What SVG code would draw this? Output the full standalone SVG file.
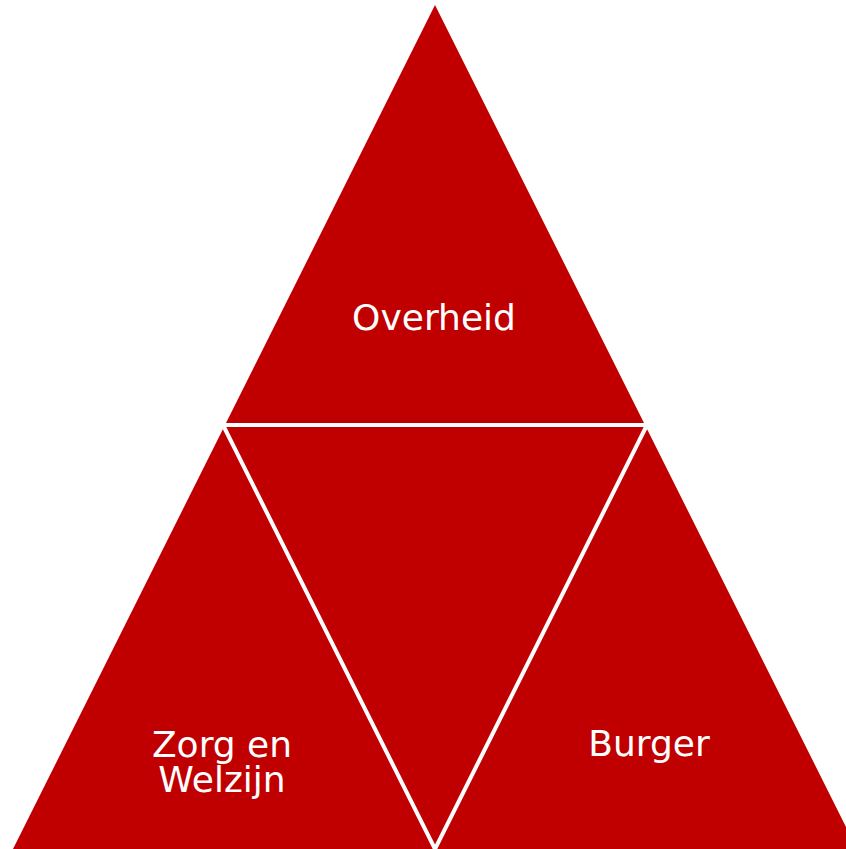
<svg xmlns="http://www.w3.org/2000/svg" width="846" height="849" viewBox="0 0 846 849">
<style>
.tri{fill:#C00000}
.sep{stroke:#FFFFFF;stroke-width:4;fill:none}
.lbl{font-family:"DejaVu Sans",Verdana,sans-serif;font-size:36px;fill:#FFFFFF;text-anchor:middle}
</style>
<rect width="846" height="849" fill="#FFFFFF"/>
<g id="top-node">
<polygon class="tri" points="435,5 224,427 646,427"/>
<text class="lbl" x="434" y="330">Overheid</text>
</g>
<g id="center-node">
<polygon class="tri" points="224,427 646,427 435,849"/>
</g>
<g id="left-node">
<polygon class="tri" points="224,427 13,849 435,849"/>
<text class="lbl" x="222" y="757"><tspan x="222" y="757">Zorg en</tspan><tspan x="222" y="792">Welzijn</tspan></text>
</g>
<g id="right-node">
<polygon class="tri" points="646,427 435,849 857,849"/>
<text class="lbl" x="649" y="756">Burger</text>
</g>
<g id="connectors">
<line class="sep" x1="0" y1="425" x2="846" y2="425"/>
<line class="sep" x1="224" y1="427" x2="436" y2="851"/>
<line class="sep" x1="646" y1="427" x2="434" y2="851"/>
</g>
</svg>
